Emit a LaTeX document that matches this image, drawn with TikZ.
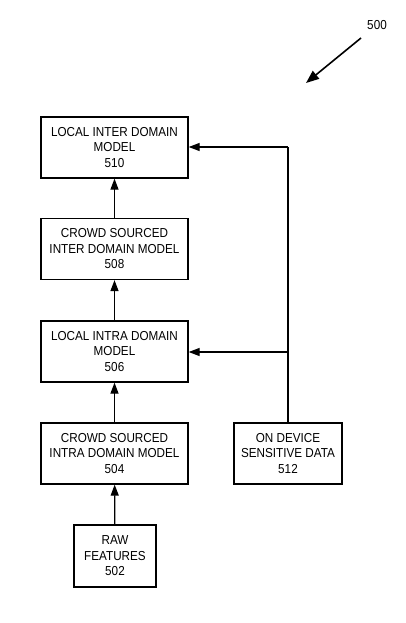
\documentclass[tikz,border=0pt]{standalone}
\usepackage{fontspec}
\setmainfont[FakeStretch=0.9]{Liberation Sans}
\usetikzlibrary{arrows.meta}
\begin{document}
\begin{tikzpicture}[x=1pt,y=-1pt,
  box/.style={draw, line width=1.3pt, inner sep=0pt, align=center,
    font=\fontsize{13}{15.5}\selectfont},
  mainbox/.style={box, minimum width=147pt, minimum height=61pt},
  conn/.style={line width=1.3pt, -{Triangle[length=11pt,width=8pt]}},
  lbl/.style={font=\fontsize{13}{14}\selectfont, inner sep=0pt}]
\useasboundingbox (0,0) rectangle (405,623);
\node[mainbox] (n510) at (114.5,147.5) {LOCAL INTER DOMAIN\\MODEL\\510};
\node[mainbox] (n508) at (114.5,249) {CROWD SOURCED\\INTER DOMAIN MODEL\\508};
\node[mainbox] (n506) at (114.5,351.5) {LOCAL INTRA DOMAIN\\MODEL\\506};
\node[mainbox] (n504) at (114.5,453.5) {CROWD SOURCED\\INTRA DOMAIN MODEL\\504};
\node[box, minimum width=82pt, minimum height=62pt] (n502) at (115,556) {RAW\\FEATURES\\502};
\node[box, minimum width=108pt, minimum height=61pt] (n512) at (288,453.5) {ON DEVICE\\SENSITIVE DATA\\512};
\coordinate (top) at (288,147);
\coordinate (mid) at (288,352);
\draw[conn] (n502) -- (n504);
\draw[conn] (n504) -- (n506);
\draw[conn] (n506) -- (n508);
\draw[conn] (n508) -- (n510);
\draw[line width=1.3pt] (n512.north) -- (top);
\draw[conn] (top) -- (top -| n510.east);
\draw[conn] (mid) -- (mid -| n506.east);
\node[lbl] (l500) at (377,25) {500};
\coordinate (a500s) at (361,38);
\coordinate (a500e) at (306,83);
\draw[line width=1.6pt, -{Triangle[length=13pt,width=10pt]}] (a500s) -- (a500e);
\end{tikzpicture}
\end{document}
